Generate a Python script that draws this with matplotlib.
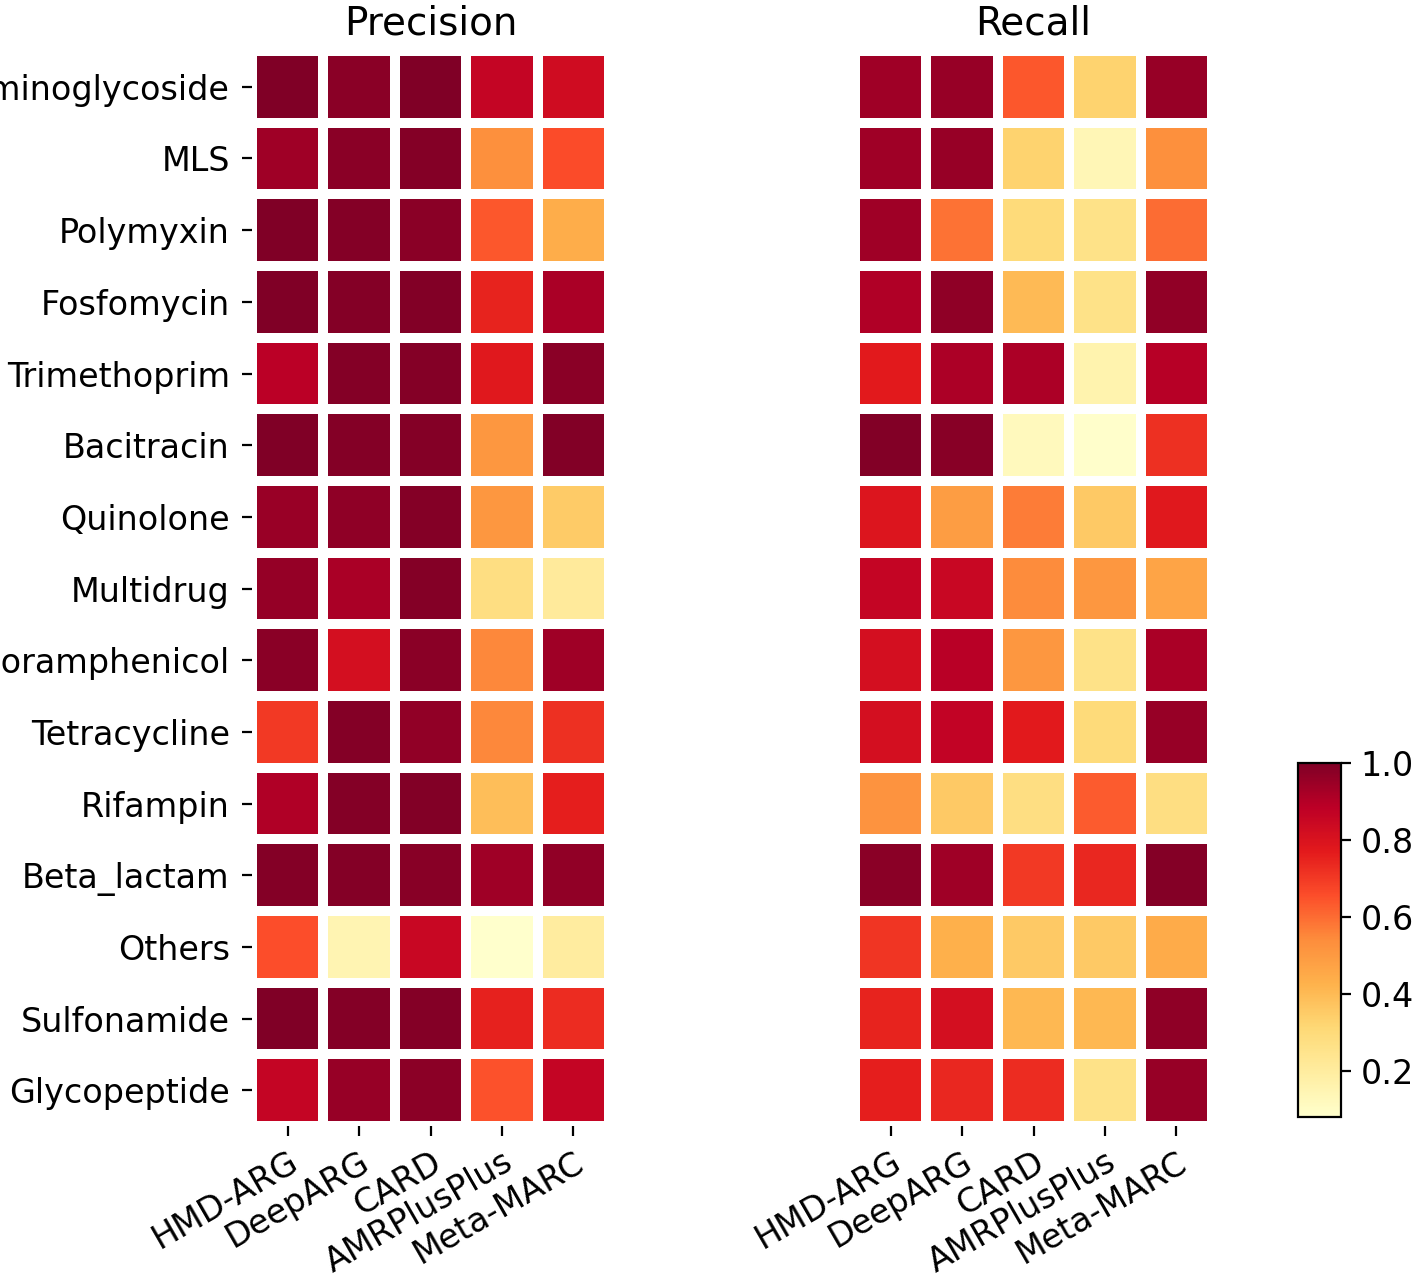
import matplotlib
matplotlib.use("Agg")
import matplotlib.pyplot as plt
import numpy as np

classes = ["Aminoglycoside", "MLS", "Polymyxin", "Fosfomycin", "Trimethoprim",
           "Bacitracin", "Quinolone", "Multidrug", "Chloramphenicol", "Tetracycline",
           "Rifampin", "Beta_lactam", "Others", "Sulfonamide", "Glycopeptide"]
tools = ["HMD-ARG", "DeepARG", "CARD", "AMRPlusPlus", "Meta-MARC"]

# rows = classes, columns = tools
precision = [
    [1.00, 0.98, 1.00, 0.86, 0.83],
    [0.94, 0.98, 0.99, 0.53, 0.66],
    [1.00, 0.99, 0.98, 0.64, 0.44],
    [1.00, 0.99, 0.995, 0.75, 0.92],
    [0.885, 0.99, 0.99, 0.78, 0.98],
    [1.00, 0.99, 0.99, 0.51, 0.995],
    [0.95, 0.97, 0.99, 0.51, 0.35],
    [0.96, 0.92, 0.99, 0.28, 0.21],
    [0.98, 0.82, 0.98, 0.55, 0.94],
    [0.70, 0.99, 0.965, 0.55, 0.72],
    [0.91, 0.99, 0.995, 0.39, 0.76],
    [0.99, 0.99, 0.985, 0.94, 0.965],
    [0.655, 0.15, 0.85, 0.08, 0.20],
    [1.00, 0.99, 0.99, 0.755, 0.73],
    [0.86, 0.955, 0.975, 0.65, 0.86],
]
recall = [
    [0.94, 0.955, 0.64, 0.33, 0.955],
    [0.94, 0.955, 0.33, 0.14, 0.53],
    [0.94, 0.59, 0.30, 0.26, 0.60],
    [0.91, 0.97, 0.40, 0.26, 0.965],
    [0.77, 0.915, 0.915, 0.16, 0.895],
    [0.995, 0.985, 0.12, 0.085, 0.72],
    [0.79, 0.49, 0.57, 0.36, 0.78],
    [0.86, 0.85, 0.54, 0.51, 0.47],
    [0.82, 0.89, 0.51, 0.26, 0.92],
    [0.82, 0.87, 0.77, 0.30, 0.955],
    [0.52, 0.36, 0.28, 0.63, 0.28],
    [0.98, 0.94, 0.70, 0.74, 0.99],
    [0.71, 0.43, 0.36, 0.36, 0.45],
    [0.75, 0.82, 0.41, 0.41, 0.97],
    [0.76, 0.74, 0.73, 0.26, 0.955],
]

vmin, vmax = 0.08, 1.0

fig = plt.figure(figsize=(7.09, 6.39), dpi=200)
ax1 = fig.add_axes([0.1777, 0.1189, 0.2518, 0.8412])
ax2 = fig.add_axes([0.603, 0.1189, 0.2518, 0.8412])
cax = fig.add_axes([0.9154, 0.126, 0.0303, 0.277])

for ax, data, title in [(ax1, precision, "Precision"), (ax2, recall, "Recall")]:
    arr = np.array(data)
    mesh = ax.pcolormesh(arr, cmap="YlOrRd", vmin=vmin, vmax=vmax,
                         edgecolors="white", linewidth=3.6)
    ax.set_xlim(0, arr.shape[1])
    ax.set_ylim(arr.shape[0], 0)
    ax.set_xticks(np.arange(len(tools)) + 0.5)
    ax.set_xticklabels(tools, rotation=30, ha="right", rotation_mode="anchor", fontsize=12)
    ax.set_yticks(np.arange(len(classes)) + 0.5)
    if ax is ax1:
        ax.set_yticklabels(classes, fontsize=12)
        ax.tick_params(axis="y", pad=4.5)
    else:
        ax.set_yticks([])
    for s in ax.spines.values():
        s.set_visible(False)
    ax.set_title(title, fontsize=14)

cb = fig.colorbar(mesh, cax=cax)
cb.set_ticks([0.2, 0.4, 0.6, 0.8, 1.0])
cb.ax.tick_params(labelsize=12)

fig.savefig("out.png", dpi=200)
